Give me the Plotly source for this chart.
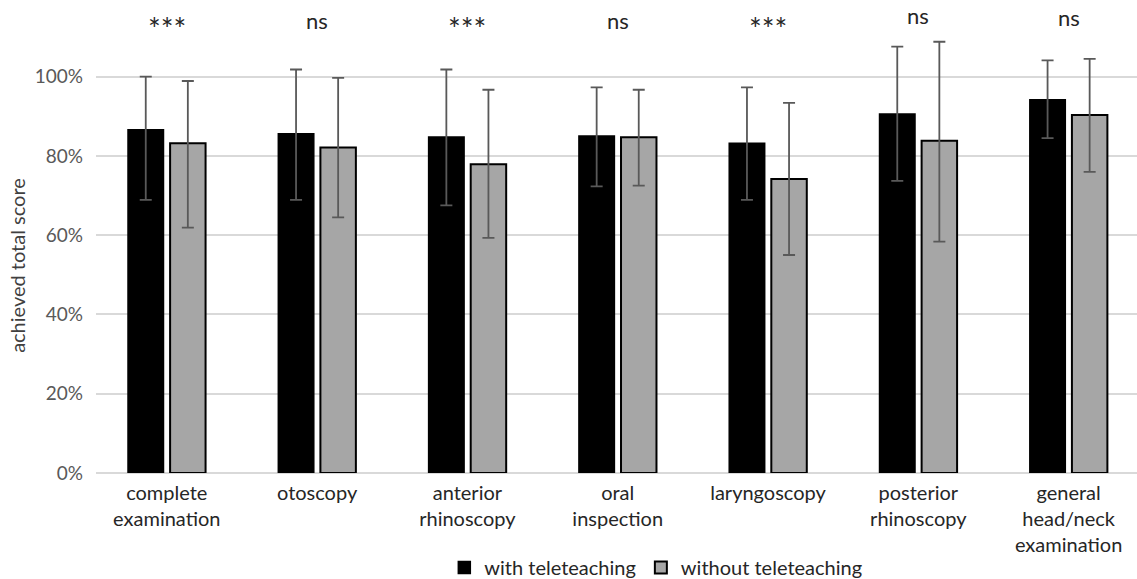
import plotly.graph_objects as go

categories = ["complete<br>examination", "otoscopy", "anterior<br>rhinoscopy", "oral<br>inspection",
              "laryngoscopy", "posterior<br>rhinoscopy", "general<br>head/neck<br>examination"]
with_tele = [86.6, 85.6, 84.8, 85.0, 83.2, 90.6, 94.2]
with_tele_err_hi = [100.0, 101.8, 101.8, 97.3, 97.3, 107.6, 104.1]
with_tele_err_lo = [68.9, 68.9, 67.5, 72.3, 68.9, 73.7, 84.5]
without_tele = [83.2, 82.1, 77.9, 84.7, 74.2, 83.8, 90.3]
without_tele_err_hi = [98.9, 99.7, 96.7, 96.7, 93.4, 108.8, 104.5]
without_tele_err_lo = [61.9, 64.5, 59.3, 72.5, 55.0, 58.4, 76.0]
significance = ["***", "ns", "***", "ns", "***", "ns", "ns"]
sig_y = [112.3, 114.2, 112.3, 114.2, 112.3, 115.4, 115.0]
y_ticks = [0, 20, 40, 60, 80, 100]

FONT = "Lato"

fig = go.Figure()
fig.add_trace(go.Bar(
    x=categories, y=with_tele, name="with teleteaching",
    marker=dict(color="#000000", line=dict(color="#000000", width=1.5)),
    error_y=dict(type="data", symmetric=False,
                 array=[h - v for h, v in zip(with_tele_err_hi, with_tele)],
                 arrayminus=[v - l for l, v in zip(with_tele_err_lo, with_tele)],
                 color="#595959", thickness=1.8, width=6),
))
fig.add_trace(go.Bar(
    x=categories, y=without_tele, name="without teleteaching",
    marker=dict(color="#A6A6A6", line=dict(color="#000000", width=2)),
    error_y=dict(type="data", symmetric=False,
                 array=[h - v for h, v in zip(without_tele_err_hi, without_tele)],
                 arrayminus=[v - l for l, v in zip(without_tele_err_lo, without_tele)],
                 color="#595959", thickness=1.8, width=6),
))

for c, s, yy in zip(categories, significance, sig_y):
    fig.add_annotation(x=c, y=yy, text=s, showarrow=False, xref="x", yref="y",
                       font=dict(family=FONT, size=30 if s == "***" else 22, color="#262626"))

# y-axis title, placed as in the reference
fig.add_annotation(x=-0.0759, y=0.44, xref="paper", yref="paper", text="achieved total score",
                   textangle=-90, showarrow=False, xanchor="center", yanchor="middle",
                   font=dict(family=FONT, size=20, color="#404040"))

fig.update_layout(
    width=1137, height=579,
    margin=dict(l=96, r=0, t=0, b=106, autoexpand=False),
    paper_bgcolor="white", plot_bgcolor="white",
    barmode="group", bargap=0.44, bargroupgap=0.157,
    font=dict(family=FONT, size=20, color="#262626"),
    showlegend=True,
    legend=dict(orientation="h", x=0.3346, xanchor="left", y=-0.2, yanchor="middle",
                itemwidth=30,
                font=dict(family=FONT, size=20, color="#262626"),
                traceorder="normal"),
    xaxis=dict(range=[-0.471, 6.455], showgrid=False, showline=False, ticks="",
               automargin=False, ticklabelstandoff=6,
               tickfont=dict(family=FONT, size=20, color="#262626"), tickangle=0),
    yaxis=dict(range=[0, 119.34], tickvals=y_ticks, ticktext=[f"{t}%" for t in y_ticks],
               showgrid=True, gridcolor="#D9D9D9", gridwidth=1.5, zeroline=True,
               zerolinecolor="#D9D9D9", zerolinewidth=1.5, showline=False, ticks="",
               ticklabelstandoff=12, automargin=False,
               tickfont=dict(family=FONT, size=19, color="#595959")),
)

fig.write_html("out.html", config={"displayModeBar": False},
               post_script="document.body.style.margin='0';document.body.style.padding='0';")
